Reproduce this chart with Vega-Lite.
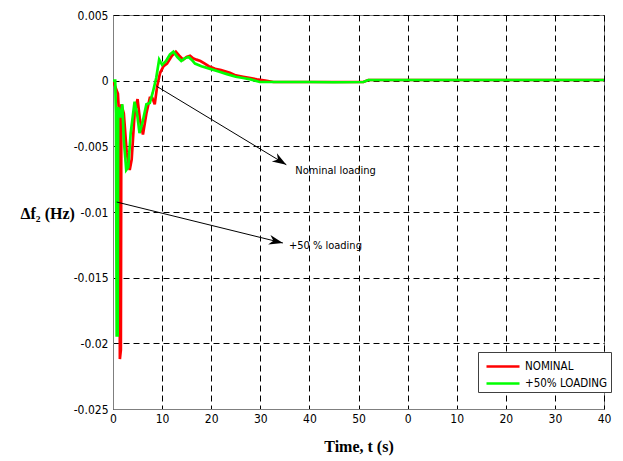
{
  "$schema": "https://vega.github.io/schema/vega-lite/v6.json",
  "width": 491,
  "height": 394,
  "autosize": {"type": "none"},
  "padding": {"left": 113, "top": 15, "right": 19, "bottom": 52},
  "background": "white",
  "config": {
    "view": {"stroke": "#7f7f7f", "strokeWidth": 1},
    "axis": {
      "labelFont": "DejaVu Sans Condensed, Liberation Sans Narrow, sans-serif",
      "labelFontSize": 12,
      "labelColor": "black",
      "labelFlush": false,
      "labelOverlap": false,
      "labelBound": false,
      "domainColor": "#7f7f7f",
      "ticks": false,
      "grid": true,
      "gridColor": "black",
      "gridDash": [6, 4],
      "gridWidth": 1,
      "gridOpacity": 1,
      "titleFont": "Liberation Serif",
      "titleFontWeight": "bold",
      "titleFontSize": 16,
      "titleColor": "black"
    }
  },
  "layer": [
    {
      "data": {
        "values": [
          {"t": 0, "v": 0, "series": "NOMINAL"},
          {"t": 1.0, "v": -0.001, "series": "NOMINAL"},
          {"t": 1.3, "v": -0.003, "series": "NOMINAL"},
          {"t": 1.4, "v": -0.0212, "series": "NOMINAL"},
          {"t": 1.6, "v": -0.0205, "series": "NOMINAL"},
          {"t": 1.7, "v": -0.0018, "series": "NOMINAL"},
          {"t": 2.2, "v": -0.0025, "series": "NOMINAL"},
          {"t": 2.8, "v": -0.0055, "series": "NOMINAL"},
          {"t": 3.4, "v": -0.0068, "series": "NOMINAL"},
          {"t": 3.8, "v": -0.006, "series": "NOMINAL"},
          {"t": 4.4, "v": -0.0025, "series": "NOMINAL"},
          {"t": 5.0, "v": -0.0014, "series": "NOMINAL"},
          {"t": 5.5, "v": -0.003, "series": "NOMINAL"},
          {"t": 6.1, "v": -0.0041, "series": "NOMINAL"},
          {"t": 6.8, "v": -0.0025, "series": "NOMINAL"},
          {"t": 7.5, "v": -0.0013, "series": "NOMINAL"},
          {"t": 8.0, "v": -0.0013, "series": "NOMINAL"},
          {"t": 8.5, "v": -0.0018, "series": "NOMINAL"},
          {"t": 9.0, "v": -0.0004, "series": "NOMINAL"},
          {"t": 9.6, "v": 0.0006, "series": "NOMINAL"},
          {"t": 10.3, "v": 0.0011, "series": "NOMINAL"},
          {"t": 11.0, "v": 0.0013, "series": "NOMINAL"},
          {"t": 12.0, "v": 0.0019, "series": "NOMINAL"},
          {"t": 12.8, "v": 0.0022, "series": "NOMINAL"},
          {"t": 13.5, "v": 0.0019, "series": "NOMINAL"},
          {"t": 14.3, "v": 0.0016, "series": "NOMINAL"},
          {"t": 15.0, "v": 0.0018, "series": "NOMINAL"},
          {"t": 15.7, "v": 0.0019, "series": "NOMINAL"},
          {"t": 16.3, "v": 0.0017, "series": "NOMINAL"},
          {"t": 17.0, "v": 0.0016, "series": "NOMINAL"},
          {"t": 17.8, "v": 0.0015, "series": "NOMINAL"},
          {"t": 18.7, "v": 0.0013, "series": "NOMINAL"},
          {"t": 19.5, "v": 0.0011, "series": "NOMINAL"},
          {"t": 20.8, "v": 0.0009, "series": "NOMINAL"},
          {"t": 22.0, "v": 0.0008, "series": "NOMINAL"},
          {"t": 23.8, "v": 0.0006, "series": "NOMINAL"},
          {"t": 25.0, "v": 0.0004, "series": "NOMINAL"},
          {"t": 26.5, "v": 0.0003, "series": "NOMINAL"},
          {"t": 28.0, "v": 0.0002, "series": "NOMINAL"},
          {"t": 29.3, "v": 0.0001, "series": "NOMINAL"},
          {"t": 31.0, "v": 0.0, "series": "NOMINAL"},
          {"t": 32.7, "v": -0.0001, "series": "NOMINAL"},
          {"t": 40.0, "v": -0.0001, "series": "NOMINAL"},
          {"t": 45.0, "v": -0.0001, "series": "NOMINAL"},
          {"t": 51.0, "v": -0.0001, "series": "NOMINAL"},
          {"t": 52.0, "v": 0.00005, "series": "NOMINAL"},
          {"t": 100, "v": 0.00005, "series": "NOMINAL"},
          {"t": 0, "v": 0, "series": "+50% LOADING"},
          {"t": 0.45, "v": 0, "series": "+50% LOADING"},
          {"t": 0.6, "v": -0.0025, "series": "+50% LOADING"},
          {"t": 0.75, "v": -0.0194, "series": "+50% LOADING"},
          {"t": 0.95, "v": -0.0194, "series": "+50% LOADING"},
          {"t": 1.05, "v": -0.002, "series": "+50% LOADING"},
          {"t": 1.5, "v": -0.0028, "series": "+50% LOADING"},
          {"t": 1.9, "v": -0.0018, "series": "+50% LOADING"},
          {"t": 2.2, "v": -0.0045, "series": "+50% LOADING"},
          {"t": 2.7, "v": -0.0068, "series": "+50% LOADING"},
          {"t": 3.1, "v": -0.0066, "series": "+50% LOADING"},
          {"t": 3.6, "v": -0.004, "series": "+50% LOADING"},
          {"t": 4.4, "v": -0.0016, "series": "+50% LOADING"},
          {"t": 4.9, "v": -0.0025, "series": "+50% LOADING"},
          {"t": 5.4, "v": -0.004, "series": "+50% LOADING"},
          {"t": 6.0, "v": -0.0032, "series": "+50% LOADING"},
          {"t": 6.8, "v": -0.0018, "series": "+50% LOADING"},
          {"t": 7.5, "v": -0.0017, "series": "+50% LOADING"},
          {"t": 8.1, "v": -0.0009, "series": "+50% LOADING"},
          {"t": 8.8, "v": 0.0002, "series": "+50% LOADING"},
          {"t": 9.4, "v": 0.0016, "series": "+50% LOADING"},
          {"t": 10.0, "v": 0.0012, "series": "+50% LOADING"},
          {"t": 10.8, "v": 0.0015, "series": "+50% LOADING"},
          {"t": 11.6, "v": 0.002, "series": "+50% LOADING"},
          {"t": 12.3, "v": 0.0022, "series": "+50% LOADING"},
          {"t": 13.1, "v": 0.0018, "series": "+50% LOADING"},
          {"t": 13.9, "v": 0.0015, "series": "+50% LOADING"},
          {"t": 14.6, "v": 0.0017, "series": "+50% LOADING"},
          {"t": 15.4, "v": 0.0018, "series": "+50% LOADING"},
          {"t": 16.0, "v": 0.0016, "series": "+50% LOADING"},
          {"t": 16.7, "v": 0.0013, "series": "+50% LOADING"},
          {"t": 18.0, "v": 0.0011, "series": "+50% LOADING"},
          {"t": 19.8, "v": 0.0009, "series": "+50% LOADING"},
          {"t": 21.5, "v": 0.0007, "series": "+50% LOADING"},
          {"t": 23.2, "v": 0.0005, "series": "+50% LOADING"},
          {"t": 25.0, "v": 0.0003, "series": "+50% LOADING"},
          {"t": 26.5, "v": 0.0002, "series": "+50% LOADING"},
          {"t": 28.0, "v": 0.0001, "series": "+50% LOADING"},
          {"t": 29.9, "v": -0.0001, "series": "+50% LOADING"},
          {"t": 35.0, "v": -0.0001, "series": "+50% LOADING"},
          {"t": 40.0, "v": -0.0001, "series": "+50% LOADING"},
          {"t": 45.0, "v": -0.00012, "series": "+50% LOADING"},
          {"t": 51.0, "v": -0.0001, "series": "+50% LOADING"},
          {"t": 52.0, "v": 0.00005, "series": "+50% LOADING"},
          {"t": 100, "v": 0.00005, "series": "+50% LOADING"}
        ]
      },
      "mark": {"type": "line", "strokeWidth": 2.7, "clip": true},
      "encoding": {
        "x": {
          "field": "t",
          "type": "quantitative",
          "scale": {"domain": [0, 100], "nice": false, "zero": false},
          "axis": {
            "values": [0, 10, 20, 30, 40, 50, 60, 70, 80, 90, 100],
            "labelExpr": "datum.value <= 50 ? '' + datum.value : '' + (datum.value - 60)",
            "labelPadding": 4,
            "title": "Time, t (s)",
            "titleY": 37,
            "titleBaseline": "middle"
          }
        },
        "y": {
          "field": "v",
          "type": "quantitative",
          "scale": {"domain": [-0.025, 0.005], "nice": false, "zero": false},
          "axis": {
            "values": [-0.025, -0.02, -0.015, -0.01, -0.005, 0, 0.005],
            "labelExpr": "'' + datum.value",
            "labelPadding": 5,
            "title": "Δf₂ (Hz)",
            "titleAngle": 0,
            "titleAlign": "left",
            "titleBaseline": "middle",
            "titleX": -93,
            "titleY": 198
          }
        },
        "color": {
          "field": "series",
          "type": "nominal",
          "sort": ["NOMINAL", "+50% LOADING"],
          "scale": {"domain": ["NOMINAL", "+50% LOADING"], "range": ["#ff0000", "#00ff00"]},
          "legend": {
            "title": null,
            "orient": "none",
            "legendX": 365,
            "legendY": 337,
            "fillColor": "white",
            "strokeColor": "#404040",
            "padding": 3,
            "symbolType": "M-0.6,0L2.7,0",
            "symbolSize": 400,
            "symbolStrokeWidth": 2.5,
            "labelFont": "DejaVu Sans Condensed, Liberation Sans Narrow, sans-serif",
            "labelFontSize": 11.5,
            "labelColor": "black",
            "labelOffset": 21,
            "rowPadding": 0
          }
        }
      }
    },
    {
      "data": {"values": [{"t0": 8.9, "v0": -0.00043, "t1": 35.3, "v1": -0.0064, "label": "Nominal loading"}]},
      "layer": [
        {
          "mark": {"type": "rule", "color": "black", "strokeWidth": 1},
          "encoding": {
            "x": {"field": "t0", "type": "quantitative"},
            "y": {"field": "v0", "type": "quantitative"},
            "x2": {"field": "t1"},
            "y2": {"field": "v1"}
          }
        },
        {
          "mark": {"type": "point", "shape": "M0,0L-2,-0.7L-1.4,0L-2,0.7Z", "filled": true, "color": "black", "opacity": 1, "size": 196, "angle": 31.4},
          "encoding": {
            "x": {"field": "t1", "type": "quantitative"},
            "y": {"field": "v1", "type": "quantitative"}
          }
        },
        {
          "mark": {"type": "text", "align": "left", "baseline": "middle", "dx": 9, "dy": 6, "font": "DejaVu Sans Condensed, Liberation Sans Narrow, sans-serif", "fontSize": 11, "color": "black"},
          "encoding": {
            "x": {"field": "t1", "type": "quantitative"},
            "y": {"field": "v1", "type": "quantitative"},
            "text": {"field": "label"}
          }
        }
      ]
    },
    {
      "data": {"values": [{"t0": 0.75, "v0": -0.00924, "t1": 34.6, "v1": -0.01236, "label": "+50 % loading"}]},
      "layer": [
        {
          "mark": {"type": "rule", "color": "black", "strokeWidth": 1},
          "encoding": {
            "x": {"field": "t0", "type": "quantitative"},
            "y": {"field": "v0", "type": "quantitative"},
            "x2": {"field": "t1"},
            "y2": {"field": "v1"}
          }
        },
        {
          "mark": {"type": "point", "shape": "M0,0L-2,-0.7L-1.4,0L-2,0.7Z", "filled": true, "color": "black", "opacity": 1, "size": 196, "angle": 13.8},
          "encoding": {
            "x": {"field": "t1", "type": "quantitative"},
            "y": {"field": "v1", "type": "quantitative"}
          }
        },
        {
          "mark": {"type": "text", "align": "left", "baseline": "middle", "dx": 6, "dy": 3, "font": "DejaVu Sans Condensed, Liberation Sans Narrow, sans-serif", "fontSize": 11, "color": "black"},
          "encoding": {
            "x": {"field": "t1", "type": "quantitative"},
            "y": {"field": "v1", "type": "quantitative"},
            "text": {"field": "label"}
          }
        }
      ]
    }
  ]
}
